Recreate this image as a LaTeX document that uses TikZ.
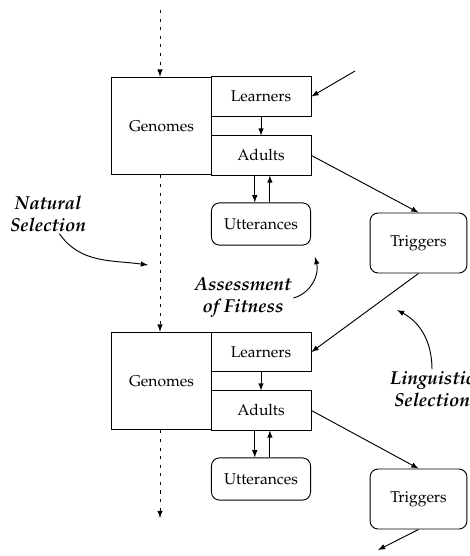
\documentclass[tikz,border=0pt]{standalone}
\usepackage[T1]{fontenc}
\usepackage{mathpazo}
\usetikzlibrary{arrows}
\tikzset{>=latex}
\tikzset{
  part/.style={draw, rectangle, inner sep=0pt, minimum width=2.25cm, minimum height=0.88cm},
  pool/.style={draw, rectangle, rounded corners=0.18cm, inner sep=0pt},
  force/.style={font=\large\bfseries\itshape, align=center, inner sep=1pt},
  gene/.style={dash pattern=on 2pt off 3.5pt}
}

\begin{document}
\begin{tikzpicture}[x=0.0225cm,y=-0.0225cm,line width=0.6pt]
  \useasboundingbox (0,0) rectangle (469,556);
  % first generation
  \node[draw, inner sep=0pt, minimum width=2.23cm, minimum height=2.2cm] (gen1) at (161.5,126) {Genomes};
  \node[part] (lrn1) at (261,96.5) {Learners};
  \node[part] (adu1) at (261,155.5) {Adults};
  \node[pool, minimum width=2.23cm, minimum height=0.95cm] (utt1) at (261,224) {Utterances};
  \node[pool, minimum width=2.18cm, minimum height=1.35cm] (trg1) at (418.5,243) {Triggers};
  % second generation
  \node[draw, inner sep=0pt, minimum width=2.23cm, minimum height=2.2cm] (gen2) at (161.5,381) {Genomes};
  \node[part] (lrn2) at (261,352) {Learners};
  \node[part] (adu2) at (261,410.5) {Adults};
  \node[pool, minimum width=2.23cm, minimum height=0.95cm] (utt2) at (261,479) {Utterances};
  \node[pool, minimum width=2.18cm, minimum height=1.35cm] (trg2) at (418.5,499) {Triggers};
  % labels
  \node[force] (nat) at (48,214) {Natural\\Selection};
  \node[force] (ass) at (243,298) {Assessment\\of Fitness};
  \node[force] (lin) at (432,389) {Linguistic\\Selection};
  \coordinate (top) at (160,10);
  \coordinate (bot) at (160,518);
  \coordinate (in) at (355,71);
  \coordinate (out) at (378,550);
  \coordinate (ns) at (148,265);
  \coordinate (af) at (315,257);
  \coordinate (ls) at (397,310);
  % genomes passed on
  \draw[->,gene] (top) -- (top |- gen1.north);
  \draw[->,gene] (gen1.south -| top) -- (top |- gen2.north);
  \draw[->,gene] (gen2.south -| top) -- (bot);
  % language passed on
  \draw[->] (in) -- (lrn1.east);
  \draw[->] (lrn1) -- (adu1);
  \draw[->] ([xshift=-0.14cm]adu1.south) -- ([xshift=-0.14cm]utt1.north);
  \draw[->] ([xshift=0.2cm]utt1.north) -- ([xshift=0.2cm]adu1.south);
  \draw[->] (adu1.east) -- (trg1.north);
  \draw[->] (trg1.south) -- (lrn2.east);
  \draw[->] (lrn2) -- (adu2);
  \draw[->] ([xshift=-0.14cm]adu2.south) -- ([xshift=-0.14cm]utt2.north);
  \draw[->] ([xshift=0.2cm]utt2.north) -- ([xshift=0.2cm]adu2.south);
  \draw[->] (adu2.east) -- (trg2.north);
  \draw[->] (trg2.south) -- (out);
  % selection pressures
  \draw[->] (nat.-60) to[out=-55,in=172] (ns);
  \draw[->] (ass.east) to[out=15,in=-75] (af);
  \draw[->] (lin.north) to[out=90,in=-28] (ls);
\end{tikzpicture}
\end{document}
